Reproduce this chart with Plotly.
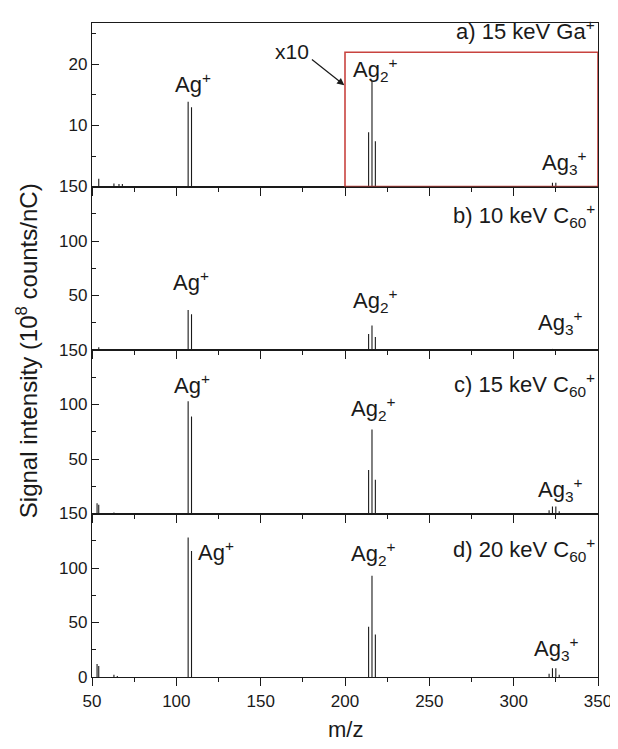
import plotly.graph_objects as go
from plotly.subplots import make_subplots

# ---- data (peak m/z and intensity, 10^8 counts/nC) ----
# panel a: 15 keV Ga+ (values for m/z >= 200 shown magnified x10, as in the figure)
a_mz = [54, 63, 66, 68, 107, 109, 214, 216, 218, 323, 325]
a_int = [1.25, 0.5, 0.4, 0.4, 13.9, 13.0, 8.9, 17.3, 7.4, 0.6, 0.6]
# panel b: 10 keV C60+
b_mz = [54, 107, 109, 214, 216, 218, 323, 325]
b_int = [2.5, 36.7, 32.8, 14.7, 22.4, 12.0, 1.0, 1.0]
# panel c: 15 keV C60+
c_mz = [53, 54, 63, 107, 109, 214, 216, 218, 321, 323, 325, 327]
c_int = [9.5, 8.0, 1.0, 103, 89, 40, 77, 31, 3.0, 6.5, 6.5, 2.0]
# panel d: 20 keV C60+
d_mz = [53, 54, 63, 65, 107, 109, 214, 216, 218, 321, 323, 325, 327]
d_int = [12, 10, 2.0, 1.0, 128, 115.6, 46, 93, 39, 3.0, 8.0, 8.0, 2.0]

panel_titles = ["a) 15 keV Ga<sup>+</sup>",
                "b) 10 keV C<sub>60</sub><sup>+</sup>",
                "c) 15 keV C<sub>60</sub><sup>+</sup>",
                "d) 20 keV C<sub>60</sub><sup>+</sup>"]
panel_title_y = [25.6, 123, 118, 117]

ion_labels = ["Ag<sup>+</sup>", "Ag<sub>2</sub><sup>+</sup>", "Ag<sub>3</sub><sup>+</sup>"]
# label anchor positions (m/z, intensity) per panel
ion_label_pos = [
    [(110, 17.0), (217.8, 19.2), (330, 3.9)],
    [(108.5, 63), (217.8, 45), (327.6, 25)],
    [(109, 119), (216.6, 96), (327.6, 22)],
    [(123.8, 116), (216.6, 113), (325, 26)],
]

y_ranges = [[0, 26.8], [0, 150], [0, 150], [0, 150]]
y_ticks = [[10, 20], [50, 100, 150], [50, 100, 150], [0, 50, 100, 150]]
y_minor = [[5, 15, 25], [25, 75, 125], [25, 75, 125], [25, 75, 125]]
x_ticks = [50, 100, 150, 200, 250, 300, 350]

box_mz = [200, 350]      # x10 region in panel a
box_top = 22.0
arrow_tip = (199.6, 16.6)
arrow_tail = (179.5, 21.0)
x10_pos = (168.5, 22.2)

FONT = "Liberation Sans, Arial, sans-serif"
INK = "#1a1a1a"

fig = make_subplots(rows=4, cols=1, shared_xaxes=True, vertical_spacing=0)

panels = [(a_mz, a_int), (b_mz, b_int), (c_mz, c_int), (d_mz, d_int)]
for i, (mz, inten) in enumerate(panels):
    xs, ys = [], []
    for m, v in zip(mz, inten):
        xs += [m, m, None]
        ys += [0, v, None]
    fig.add_trace(go.Scatter(x=xs, y=ys, mode="lines",
                             line=dict(color=INK, width=1.1),
                             hoverinfo="skip", showlegend=False),
                  row=i + 1, col=1)

for i in range(4):
    r = i + 1
    fig.update_xaxes(range=[50, 350], tickvals=x_ticks, ticks="outside",
                     ticklen=8, tickwidth=1.3, tickcolor=INK,
                     minor=dict(tickvals=[75, 125, 175, 225, 275, 325],
                                ticks="outside", ticklen=4, tickwidth=1.3,
                                tickcolor=INK),
                     showline=True, linecolor=INK, linewidth=1.4, mirror=True,
                     showgrid=False, zeroline=False,
                     showticklabels=(r == 4),
                     tickfont=dict(family=FONT, size=17, color=INK),
                     row=r, col=1)
    fig.update_yaxes(range=y_ranges[i], tickvals=y_ticks[i], ticks="inside",
                     ticklen=7, tickwidth=1.3, tickcolor=INK,
                     minor=dict(tickvals=y_minor[i], ticks="inside", ticklen=4,
                                tickwidth=1.3, tickcolor=INK),
                     showline=True, linecolor=INK, linewidth=1.4, mirror=True,
                     showgrid=False, zeroline=False,
                     tickfont=dict(family=FONT, size=17, color=INK),
                     row=r, col=1)

annotations = []
for i in range(4):
    xr = "x" if i == 0 else f"x{i+1}"
    yr = "y" if i == 0 else f"y{i+1}"
    annotations.append(dict(text=panel_titles[i], xref=f"{xr} domain", yref=yr,
                            x=1.0, y=panel_title_y[i], xanchor="right",
                            yanchor="middle", showarrow=False, xshift=-1,
                            font=dict(family=FONT, size=22, color=INK)))
    for lab, (lx, ly) in zip(ion_labels, ion_label_pos[i]):
        annotations.append(dict(text=lab, xref=xr, yref=yr, x=lx, y=ly,
                                xanchor="center", yanchor="middle",
                                showarrow=False,
                                font=dict(family=FONT, size=22, color=INK)))

annotations.append(dict(text="x10", xref="x", yref="y", x=x10_pos[0], y=x10_pos[1],
                        showarrow=False, xanchor="center", yanchor="middle",
                        font=dict(family=FONT, size=21, color=INK)))
annotations.append(dict(text="", xref="x", yref="y", x=arrow_tip[0], y=arrow_tip[1],
                        axref="x", ayref="y", ax=arrow_tail[0], ay=arrow_tail[1],
                        showarrow=True, arrowhead=2, arrowsize=1.2, arrowwidth=1.2,
                        arrowcolor=INK))
annotations.append(dict(text="Signal intensity (10<sup>8</sup> counts/nC)",
                        xref="paper", yref="paper", x=-0.128, y=0.4985,
                        textangle=-90, showarrow=False, xanchor="center",
                        yanchor="middle",
                        font=dict(family=FONT, size=24, color=INK)))
annotations.append(dict(text="m/z", xref="paper", yref="paper", x=0.5, y=-0.08,
                        showarrow=False, xanchor="center", yanchor="middle",
                        font=dict(family=FONT, size=22, color=INK)))

fig.add_shape(type="rect", xref="x", yref="y", x0=box_mz[0], x1=box_mz[1],
              y0=0, y1=box_top, line=dict(color="#c8433f", width=1.6))

# the page body adds an 8 px margin, so the figure is sized/offset to compensate
fig.update_layout(width=610, height=733, margin=dict(l=84, r=18, t=6, b=64),
                  paper_bgcolor="white", plot_bgcolor="white",
                  annotations=annotations, showlegend=False)

fig.write_html("out.html")
